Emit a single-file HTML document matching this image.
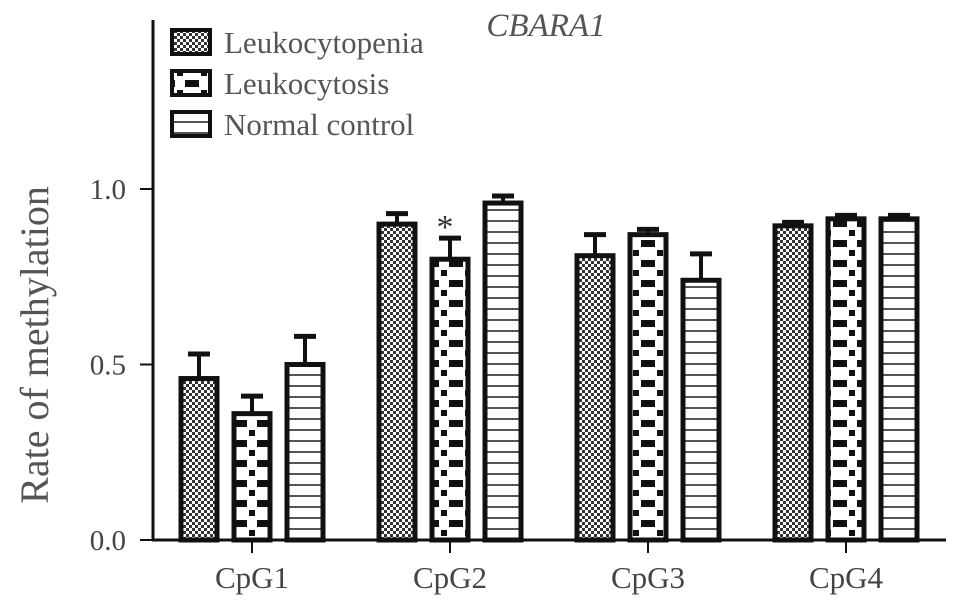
<!DOCTYPE html>
<html><head><meta charset="utf-8"><style>
html,body{margin:0;padding:0;background:#fff;}
svg{display:block;font-family:"Liberation Serif",serif;}
</style></head><body>
<svg id="chart" width="969" height="609" viewBox="0 0 969 609">
<defs>
<pattern id="pDots" width="6" height="6" patternUnits="userSpaceOnUse">
<rect width="6" height="6" fill="#fff"/><rect x="0" y="0" width="3" height="3" fill="#333"/><rect x="3" y="3" width="3" height="3" fill="#333"/></pattern>
<pattern id="pCheck" width="24" height="20" patternUnits="userSpaceOnUse">
<rect width="24" height="20" fill="#fff"/><rect x="0" y="0" width="7" height="7" fill="#111"/><rect x="17" y="0" width="7" height="7" fill="#111"/><rect x="9" y="10" width="6" height="6" fill="#111"/></pattern>
<pattern id="pLines" width="8" height="11" patternUnits="userSpaceOnUse">
<rect width="8" height="11" fill="#fff"/><rect x="0" y="0" width="8" height="2" fill="#555"/></pattern>
</defs>
<g id="plot"></g>
</svg>
<script>
const categories = ["CpG1","CpG2","CpG3","CpG4"];
const seriesNames = ["Leukocytopenia","Leukocytosis","Normal control"];
const leukocytopenia = [0.46, 0.90, 0.81, 0.895];
const leukocytosis = [0.36, 0.80, 0.87, 0.915];
const normalControl = [0.50, 0.96, 0.74, 0.915];
const errLeukocytopenia = [0.07, 0.03, 0.06, 0.01];
const errLeukocytosis = [0.05, 0.06, 0.015, 0.01];
const errNormal = [0.08, 0.02, 0.075, 0.01];
const yTicks = [0.0, 0.5, 1.0];
const yTickLabels = ["0.0","0.5","1.0"];
const significant = [[1,1]];

const NS="http://www.w3.org/2000/svg";
const g=document.getElementById('plot');
const y0=540, pxPerUnit=351;
function yScale(v){return y0 - v*pxPerUnit;}
function xCenter(i){return 252 + i*198;}
function mk(tag,attrs,parent){const e=document.createElementNS(NS,tag);for(const k in attrs)e.setAttribute(k,attrs[k]);(parent||g).appendChild(e);return e;}

const fills=["url(#pDots)","url(#pCheck)","url(#pLines)"];
const series=[leukocytopenia,leukocytosis,normalControl];
const errs=[errLeukocytopenia,errLeukocytosis,errNormal];
const barW=36, step=53;

let ax=mk('line',{x1:153,y1:20,x2:153,y2:541,stroke:'#111','stroke-width':3});


let xax=mk('line',{x1:152,y1:540,x2:946,y2:540,stroke:'#111','stroke-width':3});



yTicks.forEach((t,i)=>{
  const yy=yScale(t);
  const tk=mk('line',{x1:140,y1:yy,x2:153,y2:yy,stroke:'#111','stroke-width':2});
  
  
  const lb=mk('text',{x:126,y:yy+10,'text-anchor':'end','font-size':29,fill:'#444'});
  lb.textContent=yTickLabels[i];
  
  
});

categories.forEach((c,i)=>{
  const cx=xCenter(i);
  const tk=mk('line',{x1:cx,y1:540,x2:cx,y2:553,stroke:'#111','stroke-width':2});
  
  
  const lb=mk('text',{x:cx,y:588,'text-anchor':'middle','font-size':31,fill:'#444'});
  lb.textContent=c;
  
  
  series.forEach((s,j)=>{
    const bx=cx+(j-1)*step;
    const top=yScale(s[i]), et=yScale(s[i]+errs[j][i]);
    const el=mk('line',{x1:bx,y1:top,x2:bx,y2:et,stroke:'#111','stroke-width':4});
    
    
    const cap=mk('line',{x1:bx-11,y1:et,x2:bx+11,y2:et,stroke:'#111','stroke-width':5});
    
    
    const r=mk('rect',{x:bx-barW/2,y:top,width:barW,height:y0-top,fill:fills[j],stroke:'#111','stroke-width':5});
    
    
  });
});

significant.forEach(([ci,sj])=>{
  const bx=xCenter(ci)+(sj-1)*step;
  const st=mk('text',{x:bx-5,y:yScale(series[sj][ci]+errs[sj][ci]),'text-anchor':'middle','font-size':34,fill:'#333'});
  st.textContent='*';
  
  
});

const yt=mk('text',{x:0,y:0,transform:'translate(48,345) rotate(-90)','text-anchor':'middle','font-size':40,fill:'#555'});
yt.textContent='Rate of methylation';


const tt=mk('text',{x:546,y:36,'text-anchor':'middle','font-size':33,'font-style':'italic',fill:'#555'});
tt.textContent='CBARA1';


seriesNames.forEach((n,j)=>{
  const yy=42+j*41;
  const sw=mk('rect',{x:172,y:yy-12,width:38,height:24,fill:fills[j],stroke:'#111','stroke-width':4});
  
  
  const lt=mk('text',{x:224,y:yy+11,'font-size':31,fill:'#555'});
  lt.textContent=n;
  
  
});
</script>
</body></html>
